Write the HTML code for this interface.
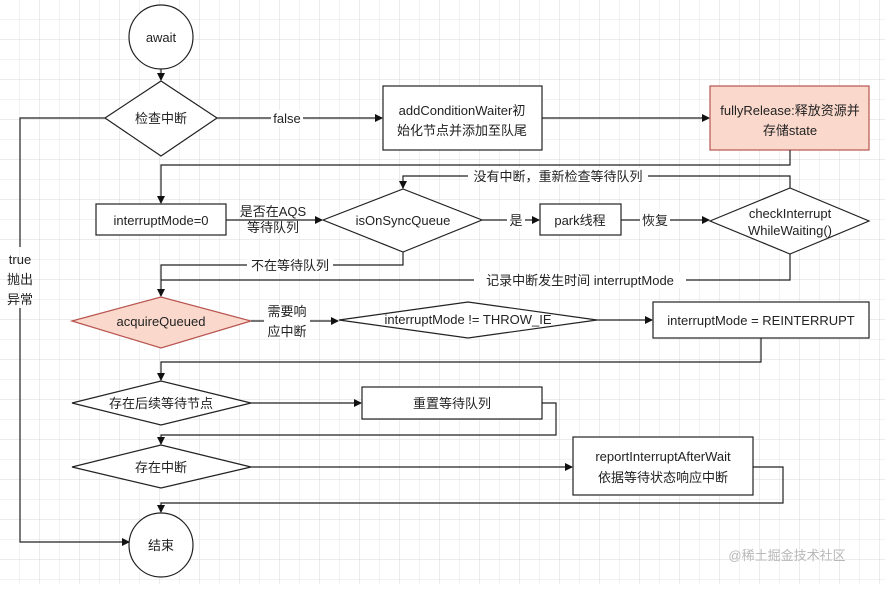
<!DOCTYPE html>
<html><head><meta charset="utf-8"><style>
body{margin:0;width:885px;height:584px;overflow:hidden;background:#fff;}
svg text{font-family:"Liberation Sans","Noto Sans CJK SC",sans-serif;font-size:13px;fill:#222;}
</style></head><body>
<svg width="885" height="584" xmlns="http://www.w3.org/2000/svg">
<defs>
<pattern id="g" width="20" height="20" patternUnits="userSpaceOnUse"><path d="M20 0V20M0 20H20" stroke="#e6e6e6" stroke-width="1" fill="none"/></pattern>
<pattern id="G" width="40" height="40" patternUnits="userSpaceOnUse"><path d="M40 0V40M0 40H40" stroke="#d8d8d8" stroke-width="1" fill="none"/></pattern>
<marker id="a" markerWidth="8" markerHeight="8" refX="7" refY="4" orient="auto" markerUnits="userSpaceOnUse"><path d="M0 0L8 4L0 8z" fill="#111"/></marker>
</defs>
<rect width="885" height="584" fill="url(#g)"/>
<rect width="885" height="584" fill="url(#G)"/>
<g fill="none" stroke="#222" stroke-width="1.2">
<!-- shapes -->
<circle cx="161" cy="37" r="32" fill="#fff"/>
<path d="M161 69V80" marker-end="url(#a)"/>
<polygon points="105,118 161,81 217,118 161,156" fill="#fff"/>
<path d="M217 118H382" marker-end="url(#a)"/>
<rect x="383" y="86" width="159" height="64" fill="#fff"/>
<path d="M542 118H709" marker-end="url(#a)"/>
<rect x="710" y="86" width="159" height="64" fill="#fad9cc" stroke="#b85450"/>
<path d="M790 150V165H161V203" marker-end="url(#a)"/>
<rect x="96" y="204" width="130" height="31" fill="#fff"/>
<path d="M226 220H322" marker-end="url(#a)"/>
<polygon points="323,220 403,189 482,220 403,252" fill="#fff"/>
<path d="M482 220H539" marker-end="url(#a)"/>
<rect x="540" y="204" width="81" height="31" fill="#fff"/>
<path d="M621 220H709" marker-end="url(#a)"/>
<polygon points="710,221 790,188 869,221 790,254" fill="#fff"/>
<path d="M790 188V176H403V188" marker-end="url(#a)"/>
<path d="M403 252V265H161V296" marker-end="url(#a)"/>
<path d="M790 254V280H161"/>
<polygon points="72,321 161,297 251,321 161,348" fill="#fad9cc" stroke="#b85450"/>
<path d="M251 321H338" marker-end="url(#a)"/>
<polygon points="339,320 468,302 597,320 468,338" fill="#fff"/>
<path d="M597 320H652" marker-end="url(#a)"/>
<rect x="653" y="302" width="216" height="36" fill="#fff"/>
<path d="M761 338V362H161V380" marker-end="url(#a)"/>
<polygon points="72,403 161,381 251,403 161,425" fill="#fff"/>
<path d="M251 403H361" marker-end="url(#a)"/>
<rect x="362" y="387" width="180" height="32" fill="#fff"/>
<path d="M542 403H556V435H161V444" marker-end="url(#a)"/>
<polygon points="72,467 161,445 251,467 161,488" fill="#fff"/>
<path d="M251 467H572" marker-end="url(#a)"/>
<rect x="573" y="437" width="180" height="58" fill="#fff"/>
<path d="M753 467H783V503H161V512" marker-end="url(#a)"/>
<ellipse cx="161" cy="545" rx="32" ry="32" fill="#fff"/>
<path d="M105 118H20V247M20 308V542H129" marker-end="url(#a)"/>
</g>
<g text-anchor="middle">
<text x="161" y="42" font-size="15">await</text>
<text x="161" y="123">检查中断</text>
<rect x="271" y="110" width="32" height="16" fill="#fff"/>
<text x="287" y="123">false</text>
<text x="462" y="115" font-size="14">addConditionWaiter初</text>
<text x="462" y="135" font-size="14">始化节点并添加至队尾</text>
<text x="790" y="115" font-size="14">fullyRelease:释放资源并</text>
<text x="790" y="135" font-size="14">存储state</text>
<text x="161" y="225" font-size="14">interruptMode=0</text>
<text x="273" y="216" font-size="12">是否在AQS</text>
<text x="273" y="232" font-size="12">等待队列</text>
<text x="403" y="225">isOnSyncQueue</text>
<rect x="507" y="212" width="18" height="16" fill="#fff"/>
<text x="516" y="225">是</text>
<text x="580" y="225" font-size="14">park线程</text>
<rect x="640" y="212" width="30" height="16" fill="#fff"/>
<text x="655" y="225">恢复</text>
<text x="790" y="218" font-size="11">checkInterrupt</text>
<text x="790" y="235" font-size="11">WhileWaiting()</text>
<rect x="468" y="168" width="180" height="16" fill="#fff"/>
<text x="558" y="181">没有中断，重新检查等待队列</text>
<rect x="247" y="257" width="86" height="16" fill="#fff"/>
<text x="290" y="270">不在等待队列</text>
<rect x="474" y="272" width="212" height="16" fill="#fff"/>
<text x="580" y="285">记录中断发生时间 interruptMode</text>
<text x="161" y="326" font-size="14">acquireQueued</text>
<rect x="264" y="304" width="46" height="34" fill="#fff"/>
<text x="287" y="316">需要响</text>
<text x="287" y="336">应中断</text>
<text x="468" y="324" font-size="10">interruptMode != THROW_IE</text>
<text x="761" y="325" font-size="13">interruptMode = REINTERRUPT</text>
<text x="161" y="408">存在后续等待节点</text>
<text x="452" y="408">重置等待队列</text>
<text x="161" y="472">存在中断</text>
<text x="663" y="461">reportInterruptAfterWait</text>
<text x="663" y="482">依据等待状态响应中断</text>
<text x="161" y="550">结束</text>
<text x="20" y="264">true</text>
<text x="20" y="284">抛出</text>
<text x="20" y="304">异常</text>
<text x="787" y="560" font-size="16" style="fill:#b8b8b8">@稀土掘金技术社区</text>
</g>
</svg>
</body></html>
